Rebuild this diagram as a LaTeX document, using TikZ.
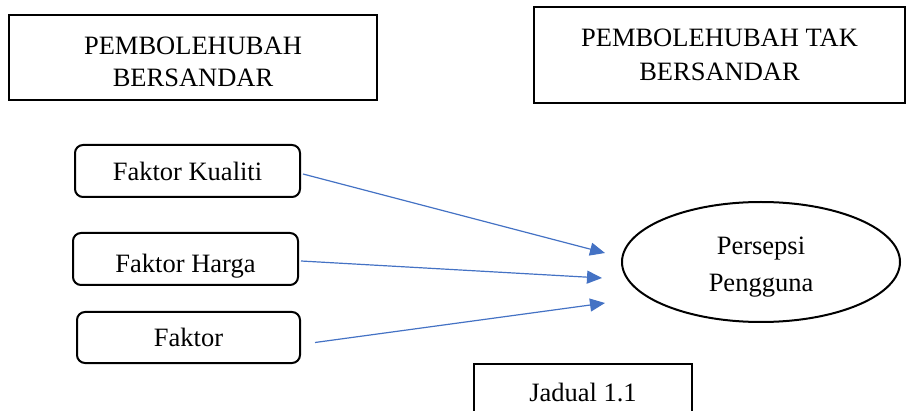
\documentclass[tikz,border=0pt]{standalone}
\usepackage{fontspec}
\setmainfont{Liberation Serif}
\usepackage{tikz}
\usetikzlibrary{arrows.meta,shapes.geometric}
\usepackage{xcolor}
\definecolor{arrowblue}{HTML}{4472C4}

\begin{document}
\begin{tikzpicture}[
    x=1pt, y=-1pt,
    every node/.style = {
      align=center,
      inner sep=0pt,
      font=\fontsize{26.5}{32}\selectfont
    },
    header/.style = {
      shape=rectangle,
      draw,
      line width=2pt
    },
    faktor/.style = {
      shape=rectangle,
      rounded corners=8pt,
      draw,
      line width=2pt,
      minimum width=225pt,
      minimum height=52pt
    },
    arrow/.style = {
      -{Triangle[length=15pt,width=13pt]},
      draw=arrowblue,
      line width=1.2pt
    }
  ]
    \useasboundingbox (0,0) rectangle (907,411);
    \clip (0,0) rectangle (907,411);

    % Top headers
    \node[header, minimum width=368pt, minimum height=85pt, text height=58pt, text depth=0pt] (bersandar) at (193,57.5) {PEMBOLEHUBAH\\BERSANDAR};
    \node[header, line width=2.5pt, minimum width=371pt, minimum height=96pt] (takbersandar) at (719.5,55) {PEMBOLEHUBAH TAK\\[2pt]BERSANDAR};

    % Factors on the left
    \node[faktor] (kualiti) at (187.5,171) {Faktor Kualiti};
    \node[faktor, text height=34pt, text depth=6pt] (harga) at (185.5,259) {Faktor Harga};
    \node[faktor, minimum width=223pt, minimum height=51pt] (faktor) at (188.5,337.5) {Faktor};

    % Ellipse on the right
    \node[ellipse, draw, line width=2pt, minimum width=278pt, minimum height=120pt, text height=65pt, text depth=6pt] (persepsi) at (761,262) {Persepsi\\[5pt]Pengguna};

    % Caption box, cut at the bottom
    \node[draw, line width=1.5pt, minimum width=218pt, minimum height=56pt] (jadual) at (583,392) {Jadual 1.1};

    % Arrow ends in front of the ellipse
    \coordinate (hujung1) at (605,253);
    \coordinate (hujung2) at (602,278);
    \coordinate (hujung3) at (605,303);

    % Arrows
    \draw[arrow] ([xshift=2pt,yshift=-3pt]kualiti.east) -- (hujung1);
    \draw[arrow] ([xshift=2pt,yshift=-2pt]harga.east) -- (hujung2);
    \draw[arrow] ([xshift=14pt,yshift=-5pt]faktor.east) -- (hujung3);

  \end{tikzpicture}
\end{document}
